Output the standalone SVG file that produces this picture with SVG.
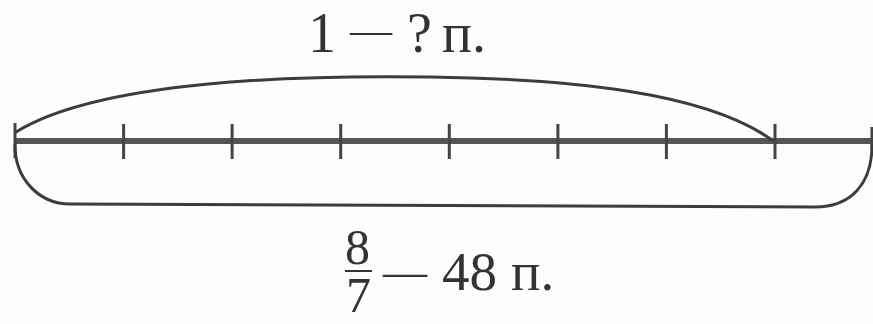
<svg xmlns="http://www.w3.org/2000/svg" width="873" height="324" viewBox="0 0 873 324">
<style>
.t{font-family:"Liberation Serif","Times New Roman",serif;fill:#333}
.arc{fill:none;stroke:#3c3c3c;stroke-width:3;stroke-linecap:round}
.main{stroke:#555;stroke-width:6}
.tick{stroke:#444;stroke-width:3}
</style>
<rect width="873" height="324" fill="#fdfdfd"/>
<g id="segment">
<line class="main" x1="15" y1="141" x2="873" y2="141"/>
<line class="tick" x1="15" y1="123" x2="15" y2="158"/>
<line class="tick" x1="123.6" y1="124" x2="123.6" y2="159"/>
<line class="tick" x1="232.1" y1="124" x2="232.1" y2="159"/>
<line class="tick" x1="340.7" y1="124" x2="340.7" y2="159"/>
<line class="tick" x1="449.3" y1="124" x2="449.3" y2="159"/>
<line class="tick" x1="557.9" y1="124" x2="557.9" y2="159"/>
<line class="tick" x1="666.4" y1="124" x2="666.4" y2="159"/>
<line class="tick" x1="775" y1="124" x2="775" y2="159"/>
<line class="tick" x1="872" y1="127" x2="872" y2="150"/>
</g>
<g id="connectors">
<path class="arc" d="M16,132 C100,80 300,75 430,77 C570,79 705,92 772,140"/>
<path class="arc" d="M15,145 C15,180 40,204 70,204 L815,207 C850,207 872,185 872,145"/>
</g>
<g id="top-label">
<text class="t" font-size="56"><tspan x="308" y="52">1</tspan><tspan x="350" y="44" font-size="42">—</tspan><tspan x="407" y="52">?</tspan><tspan x="442" y="52">п.</tspan></text>
</g>
<g id="bottom-label">
<text class="t" font-size="50"><tspan x="345" y="264">8</tspan></text>
<line x1="345" y1="271" x2="372" y2="271" stroke="#333" stroke-width="2"/>
<text class="t" font-size="50"><tspan x="346" y="312">7</tspan></text>
<text class="t" font-size="55"><tspan x="383" y="286" font-size="44">—</tspan><tspan x="442" y="290">48</tspan><tspan x="511" y="290">п.</tspan></text>
</g>
</svg>
